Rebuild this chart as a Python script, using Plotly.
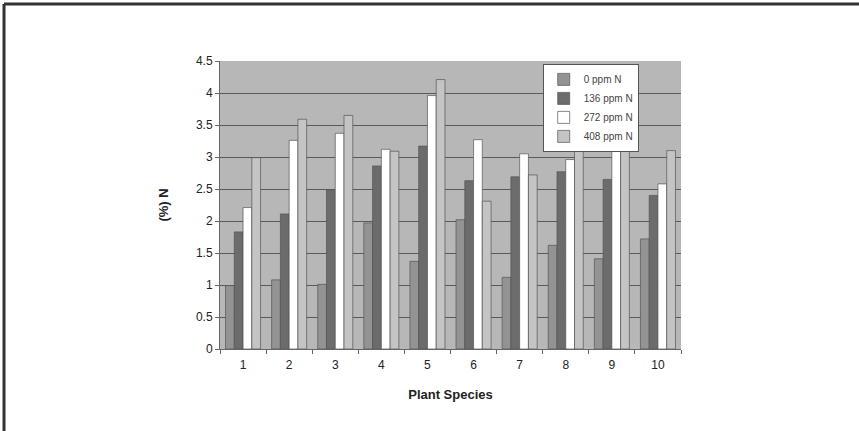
import plotly.graph_objects as go

species = ["1", "2", "3", "4", "5", "6", "7", "8", "9", "10"]
n0 = [0.99, 1.08, 1.01, 1.97, 1.37, 2.02, 1.12, 1.62, 1.41, 1.72]
n136 = [1.83, 2.11, 2.49, 2.86, 3.17, 2.63, 2.69, 2.77, 2.65, 2.40]
n272 = [2.21, 3.26, 3.37, 3.12, 3.96, 3.27, 3.05, 2.96, 3.39, 2.58]
n408 = [2.99, 3.59, 3.65, 3.09, 4.21, 2.31, 2.72, 3.36, 3.60, 3.10]
names = ["0 ppm N", "136 ppm N", "272 ppm N", "408 ppm N"]
colors = ["#939393", "#6c6c6c", "#ffffff", "#c4c4c4"]
y_ticks = [0, 0.5, 1, 1.5, 2, 2.5, 3, 3.5, 4, 4.5]

fig = go.Figure()
for vals, nm, c in zip([n0, n136, n272, n408], names, colors):
    fig.add_trace(go.Bar(x=species, y=vals, name=nm,
                         marker=dict(color=c, line=dict(color="#555555", width=0.7))))

fig.update_layout(
    width=859, height=431,
    margin=dict(l=220, r=178, t=61, b=82),
    paper_bgcolor="white", plot_bgcolor="#b7b7b7",
    barmode="group", bargap=0.24, bargroupgap=0,
    font=dict(family="Liberation Sans, Arial, sans-serif", color="#222", size=12),
    showlegend=True,
    legend=dict(x=0.70, y=0.99, xanchor="left", yanchor="top",
                bgcolor="white", bordercolor="#555", borderwidth=1,
                font=dict(size=10, color="#444"), tracegroupgap=0,
                itemwidth=30),
    xaxis=dict(type="category", tickson="boundaries", ticks="outside", ticklen=4,
               tickcolor="#666", showline=True, linecolor="#666", linewidth=1,
               showgrid=False, ticklabelstandoff=5,
               title=dict(text="<b>Plant Species</b>", font=dict(size=13), standoff=18)),
    yaxis=dict(range=[0, 4.5], tickvals=y_ticks,
               ticktext=[("%g" % v) for v in y_ticks],
               ticks="outside", ticklen=4, tickcolor="#666",
               showline=True, linecolor="#666", linewidth=1,
               showgrid=True, gridcolor="#5a5a5a", gridwidth=1,
               zeroline=False,
               title=dict(text="<b>(%) N</b>", font=dict(size=13), standoff=24)),
)

# page frame (top and left edges)
fig.add_shape(type="line", xref="paper", yref="paper", x0=-0.4685, x1=1.4, y0=1.198, y1=1.198,
              line=dict(color="#333", width=3))
fig.add_shape(type="line", xref="paper", yref="paper", x0=-0.4685, x1=-0.4685, y0=-0.3, y1=1.198,
              line=dict(color="#333", width=3))

fig.write_html("out.html", config={"displayModeBar": False},
               post_script="document.body.style.margin='0';")
